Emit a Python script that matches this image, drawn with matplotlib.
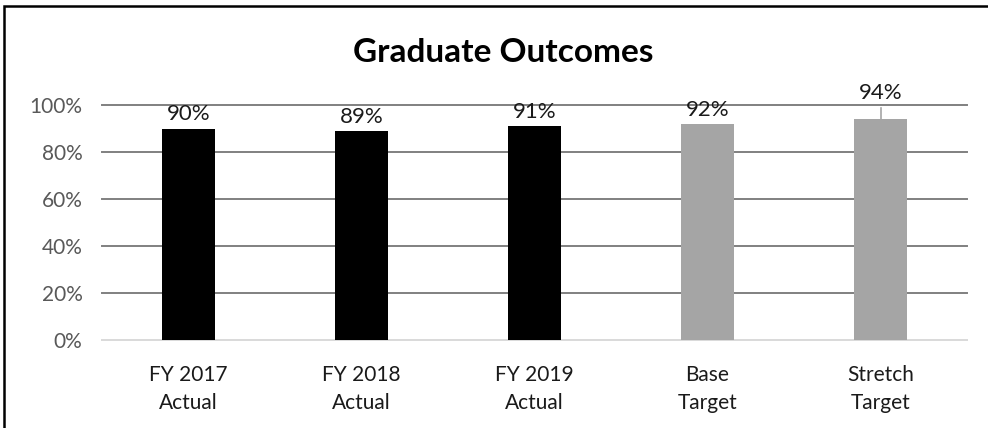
import matplotlib.pyplot as plt
from matplotlib.patches import Rectangle

plt.rcParams['font.family'] = ['Lato', 'DejaVu Sans']

categories = ["FY 2017\nActual", "FY 2018\nActual", "FY 2019\nActual",
              "Base\nTarget", "Stretch\nTarget"]
values = [0.90, 0.89, 0.91, 0.92, 0.94]
bar_colors = ["#000000", "#000000", "#000000", "#a5a5a5", "#a5a5a5"]
yticks = [0, 0.2, 0.4, 0.6, 0.8, 1.0]
ytick_labels = ["0%", "20%", "40%", "60%", "80%", "100%"]

W, H = 988, 428
fig = plt.figure(figsize=(W / 100, H / 100), dpi=100)
ax = fig.add_axes([102 / W, 1 - 340 / H, (967 - 102) / W, (340 - 105) / H])

x = list(range(len(categories)))
ax.bar(x, values, width=0.31, color=bar_colors, zorder=3)
ax.set_xlim(-0.5, len(categories) - 0.5)
ax.set_ylim(0, 1.0)

# gridlines
for t in yticks:
    ax.axhline(t, color="#d9d9d9" if t == 0 else "#808080", lw=1.4,
               zorder=1, clip_on=False)

for s in ax.spines.values():
    s.set_visible(False)

ax.set_yticks(yticks)
ax.set_yticklabels(ytick_labels)
ax.set_xticks(x)
ax.set_xticklabels(categories, linespacing=1.5)
ax.tick_params(axis="y", length=0, pad=14, labelsize=15, labelcolor="#595959")
ax.tick_params(axis="x", length=0, pad=18, labelsize=15, labelcolor="#1a1a1a")

# data labels
for xi, v in zip(x, values):
    lbl = f"{v * 100:.0f}%"
    if v + 0.08 > 1.0:
        ty = 1.05
        ax.text(xi, ty, lbl, ha="center", va="center", fontsize=16,
                color="#1a1a1a", zorder=4)
        ax.plot([xi, xi], [v, 0.987], color="#a6a6a6", lw=1.2,
                zorder=2, clip_on=False)
    else:
        ax.annotate(lbl, (xi, v), xytext=(0, 3), textcoords="offset points",
                    ha="center", va="bottom", fontsize=16, color="#1a1a1a",
                    zorder=4)

fig.text(503 / W, 1 - 53 / H, "Graduate Outcomes", ha="center", va="center",
         fontsize=24, fontweight="bold", color="#000000")

# outer border (top and left edge visible)
fig.patches.append(Rectangle((4 / W, -0.05), 1.2, 1 - 6 / H + 0.05,
                             transform=fig.transFigure, fill=False,
                             edgecolor="black", lw=1.8))

fig.savefig("out.png", dpi=100)
